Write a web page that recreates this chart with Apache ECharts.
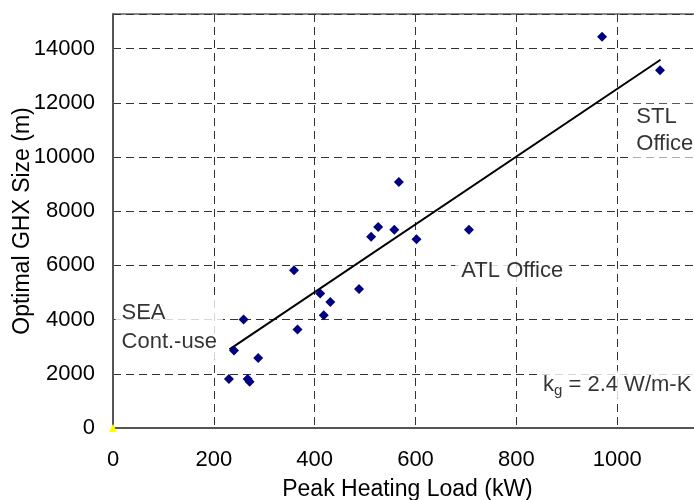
<!DOCTYPE html>
<html>
<head>
<meta charset="utf-8">
<script src="https://cdn.jsdelivr.net/npm/echarts@6/dist/echarts.min.js"></script>
<style>
html,body{margin:0;padding:0;background:#fff;}
#chart{width:694px;height:500px;}
</style>
</head>
<body>
<div id="chart"></div>
<script>
// Data
var heatLoad = [230, 240, 259, 267, 271, 288, 359, 366, 411, 418, 431, 488, 512, 526, 558, 567, 602, 706, 970, 1085];
var ghxSize  = [1810, 2860, 4000, 1810, 1710, 2580, 5820, 3640, 4960, 4160, 4650, 5130, 7060, 7420, 7320, 9080, 6970, 7320, 14440, 13200];
var trendX = [231, 1086];
var trendY = [2900, 13590];
var originX = [0];
var originY = [0];
var xTicks = [0, 200, 400, 600, 800, 1000, 1200];
var yTicks = [0, 2000, 4000, 6000, 8000, 10000, 12000, 14000];
var noteTexts = ['SEA\nCont.-use', 'ATL Office', 'STL\nOffice', '{a|k}{sub|g}{a| = 2.4 W/m-K}'];
var noteX = [5, 679, 1026, 841];
var noteY = [3700, 5790, 10970, 1600];

var FONT = "'Liberation Sans', Arial, sans-serif";
var pts = heatLoad.map(function (x, i) { return [x, ghxSize[i]]; });
var trend = trendX.map(function (x, i) { return [x, trendY[i]]; });
var origin = originX.map(function (x, i) { return [x, originY[i]]; });

var notePads = [[3, 6, 3, 6], [3, 6, 3, 6], [0, 6, 0, 6], [2, 6, 2, 6]];
var noteLH = [29, 24, 27, 24];
var notes = noteTexts.map(function (t, i) {
  return {
    value: [noteX[i], noteY[i]],
    label: {
      formatter: t,
      padding: notePads[i],
      lineHeight: noteLH[i]
    }
  };
});

var chart = echarts.init(document.getElementById('chart'), null, {renderer: 'canvas'});
chart.setOption({
  animation: false,
  backgroundColor: '#fff',
  grid: {
    left: 113, top: 14, bottom: 72, right: -24,
    containLabel: false, outerBoundsMode: 'none',
    show: true, borderColor: '#111', borderWidth: 1, backgroundColor: 'transparent'
  },
  xAxis: {
    type: 'value', min: xTicks[0], max: xTicks[xTicks.length - 1], interval: 200,
    name: 'Peak Heating Load (kW)', nameLocation: 'middle', nameGap: 50, nameMoveOverlap: false,
    nameTextStyle: {fontFamily: FONT, fontSize: 23, color: '#000', padding: [0, 16, 0, 0]},
    axisLine: {show: true, lineStyle: {color: '#555', width: 2}},
    axisTick: {show: false},
    axisLabel: {fontFamily: FONT, fontSize: 22, color: '#000', margin: 21,
      formatter: function (v) { return xTicks.indexOf(v) >= 0 ? String(v) : ''; }},
    splitLine: {show: true, lineStyle: {color: '#333', width: 1, type: [8, 5]}}
  },
  yAxis: {
    type: 'value', min: 0, max: 15280, interval: 2000,
    name: 'Optimal GHX Size (m)', nameLocation: 'middle', nameGap: 79, nameMoveOverlap: false,
    nameTextStyle: {fontFamily: FONT, fontSize: 23, color: '#000'},
    axisLine: {show: true, lineStyle: {color: '#555', width: 2}},
    axisTick: {show: false},
    axisLabel: {fontFamily: FONT, fontSize: 22, color: '#000', margin: 18,
      formatter: function (v) { return yTicks.indexOf(v) >= 0 ? String(v) : ''; }},
    splitLine: {show: true, lineStyle: {color: '#333', width: 1, type: [8, 5]}}
  },
  series: [
    {
      type: 'scatter', data: notes, symbolSize: 0, z: 3, silent: true,
      label: {
        show: true, position: 'right', distance: 0, align: 'left', verticalAlign: 'middle',
        fontFamily: FONT, fontSize: 22, color: '#000', backgroundColor: '#fff',
        rich: {
          a: {fontFamily: FONT, fontSize: 22, color: '#000'},
          sub: {fontFamily: FONT, fontSize: 15, color: '#000', padding: [12, 0, 0, 0]}
        }
      }
    },
    {
      type: 'line', data: trend, symbol: 'none', z: 4,
      lineStyle: {color: '#000', width: 2}
    },
    {
      type: 'scatter', data: pts, symbol: 'diamond', symbolSize: 10, z: 5,
      itemStyle: {color: '#000080', opacity: 1}
    },
    {
      type: 'scatter', data: origin, symbol: 'triangle', symbolSize: 8, z: 6, clip: false,
      itemStyle: {color: '#ffff00', opacity: 1}
    }
  ]
});
</script>
</body>
</html>
